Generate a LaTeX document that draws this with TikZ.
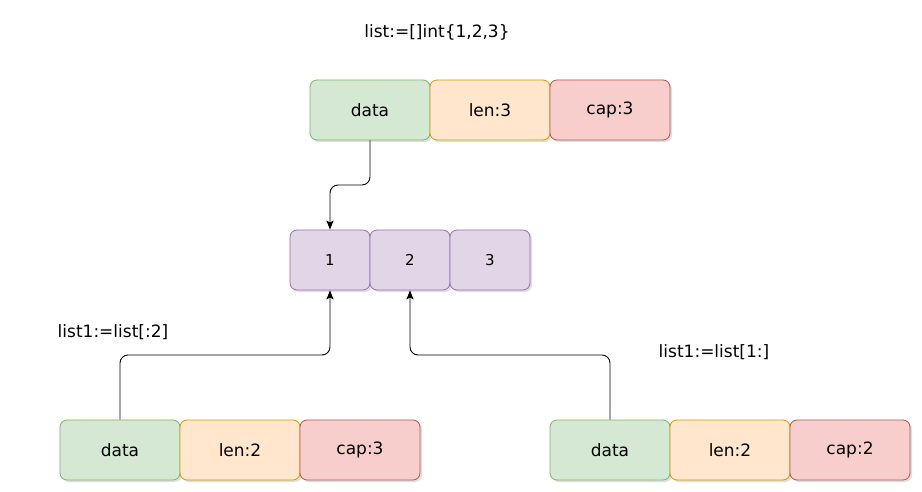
\documentclass[tikz,border=0pt]{standalone}
\usepackage{fontspec}
\setmainfont{DejaVu Sans}
\usetikzlibrary{arrows.meta,shadows}
\definecolor{gfill}{HTML}{D5E8D4}\definecolor{gdraw}{HTML}{82B366}
\definecolor{ofill}{HTML}{FFE6CC}\definecolor{odraw}{HTML}{D79B00}
\definecolor{rfill}{HTML}{F8CECC}\definecolor{rdraw}{HTML}{B85450}
\definecolor{pfill}{HTML}{E1D5E7}\definecolor{pdraw}{HTML}{9673A6}
\begin{document}
\begin{tikzpicture}[x=1pt,y=-1pt,
  box/.style={rectangle,rounded corners=7pt,line width=0.8pt,minimum width=120pt,minimum height=60pt,inner sep=0pt,font=\fontsize{17}{20}\selectfont,
    drop shadow={shadow xshift=2pt,shadow yshift=-2pt,opacity=0.25,fill=gray}},
  gbox/.style={box,fill=gfill,draw=gdraw},
  obox/.style={box,fill=ofill,draw=odraw},
  rbox/.style={box,fill=rfill,draw=rdraw},
  pbox/.style={box,fill=pfill,draw=pdraw,minimum width=80pt,font=\fontsize{15}{18}\selectfont},
  lbl/.style={font=\fontsize{17}{20}\selectfont,inner sep=0pt},
  conn/.style={line width=0.9pt,rounded corners=8pt,-{Stealth[length=9pt,width=7pt,inset=2pt]}}]
\useasboundingbox (0,0) rectangle (922,492);
\fill[white] (0,0) rectangle (922,492);
% top
\node[lbl] (title) at (437,32) {list:=[]int\{1,2,3\}};
\node[gbox] (td) at (370,110) {data};
\node[obox] (tl) at (490,110) {len:3};
\node[rbox] (tc) at (610,110) {cap:3};
% middle
\node[pbox] (p1) at (330,260) {1};
\node[pbox] (p2) at (410,260) {2};
\node[pbox] (p3) at (490,260) {3};
% bottom left
\node[lbl] (ll) at (113,332) {list1:=list[:2]};
\node[gbox] (ld) at (120,450) {data};
\node[obox] (lL) at (240,450) {len:2};
\node[rbox] (lc) at (360,450) {cap:3};
% bottom right
\node[lbl] (rl) at (714,352) {list1:=list[1:]};
\node[gbox] (rd) at (610,450) {data};
\node[obox] (rL) at (730,450) {len:2};
\node[rbox] (rc) at (850,450) {cap:2};
% connectors
\draw[conn] (td.south) |- (330,185) -- (p1.north);
\draw[conn] (ld.north) |- (330,355) -- (p1.south);
\draw[conn] (rd.north) |- (410,355) -- (p2.south);
\end{tikzpicture}
\end{document}
